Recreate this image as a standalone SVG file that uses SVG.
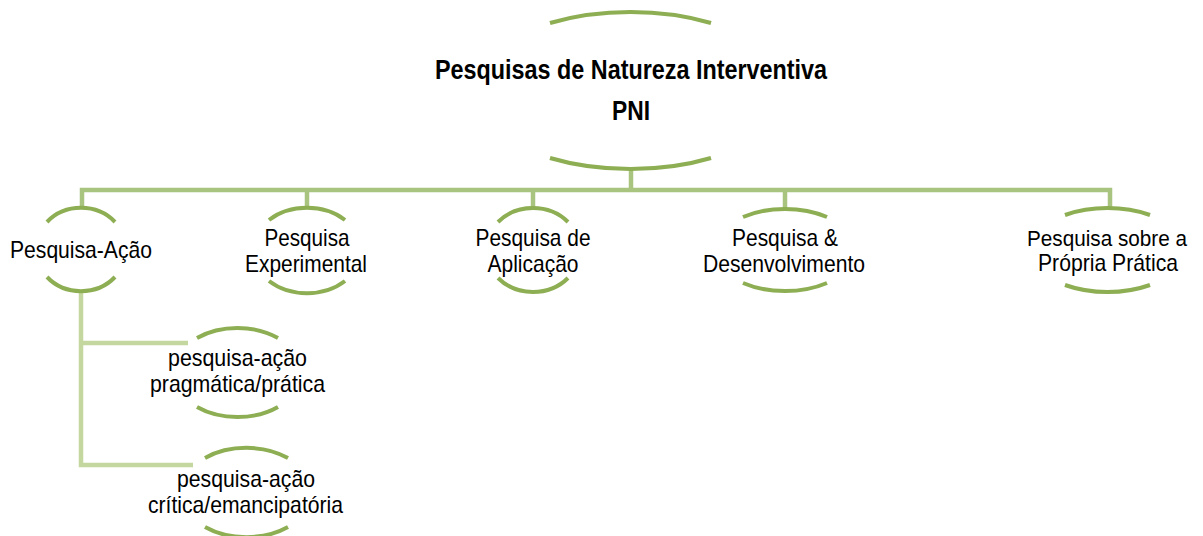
<svg xmlns="http://www.w3.org/2000/svg" width="1203" height="536" viewBox="0 0 1203 536">
<style>
.arc{fill:none;stroke:#8DAE53;stroke-width:4;stroke-linecap:butt}
.con{fill:none;stroke:#A9C47F;stroke-width:4.5}
.sub{fill:none;stroke:#C4D79F;stroke-width:4.5}
text{font-family:"Liberation Sans",Arial,sans-serif;fill:#000;text-anchor:middle}
.t{font-size:24px}
.b{font-size:27px;font-weight:bold}
</style>
<rect width="1203" height="536" fill="#fff"/>
<g id="connectors">
<path class="con" d="M631 169 V190"/>
<path class="con" d="M82 208 V190 H1110 V208"/>
<path class="con" d="M307 190 V208 M533 190 V208 M785 190 V208"/>
<path class="sub" d="M81 291 V465 H193 M81 343 H188"/>
</g>
<g id="node-pni">
<path class="arc" d="M550 23 A157.5 78.5 0 0 1 711 23"/>
<path class="arc" d="M550 158 A157.5 78.5 0 0 0 711 158"/>
<text class="b" x="631" y="79" textLength="392" lengthAdjust="spacingAndGlyphs">Pesquisas de Natureza Interventiva</text>
<text class="b" x="631" y="120" textLength="38" lengthAdjust="spacingAndGlyphs">PNI</text>
</g>
<g id="node-pa">
<path class="arc" d="M47 222 A45 41 0 0 1 115 222"/>
<path class="arc" d="M47 277 A45 41 0 0 0 115 277"/>
<text class="t" x="81" y="258" textLength="142" lengthAdjust="spacingAndGlyphs">Pesquisa-Ação</text>
</g>
<g id="node-pe">
<path class="arc" d="M269 220 A54 42 0 0 1 345 220"/>
<path class="arc" d="M269 281 A54 42 0 0 0 345 281"/>
<text class="t" x="307" y="246" textLength="85" lengthAdjust="spacingAndGlyphs">Pesquisa</text>
<text class="t" x="306" y="272" textLength="122" lengthAdjust="spacingAndGlyphs">Experimental</text>
</g>
<g id="node-pap">
<path class="arc" d="M498 222 A47 42 0 0 1 568 222"/>
<path class="arc" d="M498 278 A47 42 0 0 0 568 278"/>
<text class="t" x="533" y="246" textLength="115" lengthAdjust="spacingAndGlyphs">Pesquisa de</text>
<text class="t" x="533" y="272" textLength="91" lengthAdjust="spacingAndGlyphs">Aplicação</text>
</g>
<g id="node-pd">
<path class="arc" d="M743 217 A71 41.5 0 0 1 827 217"/>
<path class="arc" d="M743 283 A71 41.5 0 0 0 827 283"/>
<text class="t" x="785" y="246" textLength="106" lengthAdjust="spacingAndGlyphs">Pesquisa &amp;</text>
<text class="t" x="784" y="272" textLength="162" lengthAdjust="spacingAndGlyphs">Desenvolvimento</text>
</g>
<g id="node-ppp">
<path class="arc" d="M1065 215 A77 42 0 0 1 1150 215"/>
<path class="arc" d="M1065 285 A77 42 0 0 0 1150 285"/>
<text x="1107" y="246" font-size="22" textLength="160" lengthAdjust="spacingAndGlyphs">Pesquisa sobre a</text>
<text class="t" x="1108" y="271" textLength="140" lengthAdjust="spacingAndGlyphs">Própria Prática</text>
</g>
<g id="node-pap-pratica">
<path class="arc" d="M197 338 A63.5 43.5 0 0 1 278 338"/>
<path class="arc" d="M197 407 A63.5 43.5 0 0 0 278 407"/>
<text class="t" x="237.5" y="366" textLength="139" lengthAdjust="spacingAndGlyphs">pesquisa-ação</text>
<text class="t" x="237.5" y="392" textLength="175" lengthAdjust="spacingAndGlyphs">pragmática/prática</text>
</g>
<g id="node-pa-critica">
<path class="arc" d="M205 458 A65 44 0 0 1 288 458"/>
<path class="arc" d="M205 527 A65 44 0 0 0 288 527"/>
<text class="t" x="246" y="487" textLength="138" lengthAdjust="spacingAndGlyphs">pesquisa-ação</text>
<text class="t" x="245.5" y="513" textLength="195" lengthAdjust="spacingAndGlyphs">crítica/emancipatória</text>
</g>
</svg>
